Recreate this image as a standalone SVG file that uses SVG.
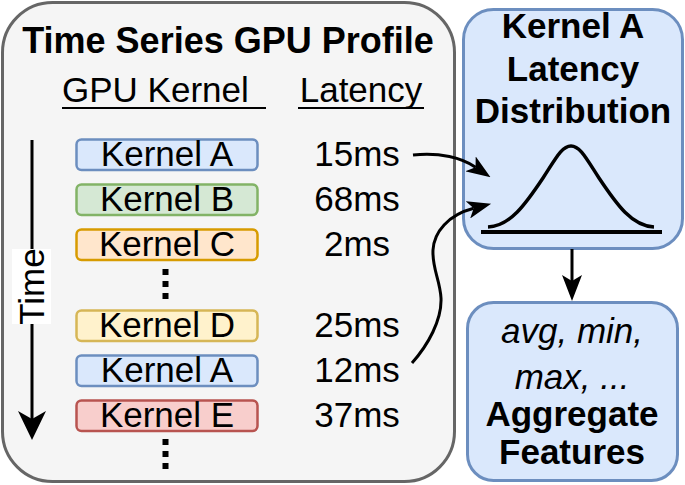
<svg xmlns="http://www.w3.org/2000/svg" width="685" height="485" viewBox="0 0 685 485">
<style>
text{font-family:"Liberation Sans",Arial,sans-serif;fill:#000}
.t{font-size:35px}
.b{font-weight:bold}
.c{text-anchor:middle}
.k{stroke-width:2.5}
.edge{fill:none;stroke:#000;stroke-width:3}
</style>
<defs>
<marker id="arr" viewBox="0 0 24 18" refX="6" refY="9" markerWidth="24" markerHeight="18" markerUnits="userSpaceOnUse" orient="auto">
<path d="M0,0 L24,9 L0,18 L6,9 Z" fill="#000"/>
</marker>
<marker id="arrDown" viewBox="0 0 26 20" refX="6" refY="10" markerWidth="26" markerHeight="20" markerUnits="userSpaceOnUse" orient="auto">
<path d="M0,0 L26,10 L0,20 L6,10 Z" fill="#000"/>
</marker>
<marker id="arrTime" viewBox="0 0 29 28" refX="8" refY="14" markerWidth="29" markerHeight="28" markerUnits="userSpaceOnUse" orient="auto">
<path d="M0,0 L29,14 L0,28 L8,14 Z" fill="#000"/>
</marker>
</defs>

<g id="profile">
<rect x="2.5" y="2.5" width="452" height="479" rx="50" fill="#f5f5f5" stroke="#666666" stroke-width="3"/>
<text class="t b c" x="228" y="53" font-size="36" style="font-size:36px">Time Series GPU Profile</text>
<text class="t" x="62" y="102">GPU Kernel</text>
<line x1="62" y1="108" x2="266" y2="108" stroke="#000" stroke-width="2"/>
<text class="t c" x="361" y="102">Latency</text>
<line x1="298" y1="108" x2="424" y2="108" stroke="#000" stroke-width="2"/>
</g>

<g id="time-axis">
<line x1="32" y1="140" x2="32" y2="419" class="edge" marker-end="url(#arrTime)"/>
<rect x="12" y="249" width="39" height="75" fill="#ffffff"/>
<text class="t c" transform="translate(43.5,286.5) rotate(-90)" x="0" y="0">Time</text>
</g>

<g id="kernel-a1">
<rect class="k" x="76.5" y="139.5" width="181" height="30.5" rx="5" fill="#dae8fc" stroke="#6c8ebf"/>
<text class="t c" x="167" y="166">Kernel A</text>
<text class="t c" x="357" y="166">15ms</text>
</g>
<g id="kernel-b">
<rect class="k" x="76.5" y="184.5" width="181" height="30.5" rx="5" fill="#d5e8d4" stroke="#82b366"/>
<text class="t c" x="167" y="211">Kernel B</text>
<text class="t c" x="357" y="211">68ms</text>
</g>
<g id="kernel-c">
<rect class="k" x="76.5" y="229.5" width="181" height="30.5" rx="5" fill="#ffe6cc" stroke="#d79b00"/>
<text class="t c" x="167" y="256">Kernel C</text>
<text class="t c" x="357" y="256">2ms</text>
</g>
<g id="dots-1" fill="#000">
<rect x="162.5" y="269" width="6" height="6"/>
<rect x="162.5" y="281" width="6" height="6"/>
<rect x="162.5" y="293" width="6" height="6"/>
</g>
<g id="kernel-d">
<rect class="k" x="76.5" y="310.5" width="181" height="30.5" rx="5" fill="#fff2cc" stroke="#d6b656"/>
<text class="t c" x="167" y="337">Kernel D</text>
<text class="t c" x="357" y="337">25ms</text>
</g>
<g id="kernel-a2">
<rect class="k" x="76.5" y="355.5" width="181" height="30.5" rx="5" fill="#dae8fc" stroke="#6c8ebf"/>
<text class="t c" x="167" y="382">Kernel A</text>
<text class="t c" x="357" y="382">12ms</text>
</g>
<g id="kernel-e">
<rect class="k" x="76.5" y="400.5" width="181" height="30.5" rx="5" fill="#f8cecc" stroke="#b85450"/>
<text class="t c" x="167" y="427">Kernel E</text>
<text class="t c" x="357" y="427">37ms</text>
</g>
<g id="dots-2" fill="#000">
<rect x="162.5" y="439" width="6" height="6"/>
<rect x="162.5" y="451" width="6" height="6"/>
<rect x="162.5" y="463" width="6" height="6"/>
</g>

<g id="distribution">
<rect x="463.5" y="9.5" width="219" height="239" rx="30" fill="#dae8fc" stroke="#6c8ebf" stroke-width="3"/>
<text class="t b c" x="573" y="38">Kernel A</text>
<text class="t b c" x="573" y="80.5">Latency</text>
<text class="t b c" x="573" y="123">Distribution</text>
<path d="M488,227 C510,226 525,205 543,178 C556,158 562,146 571,146 C580,146 586,158 599,178 C617,205 632,226 654,227" fill="none" stroke="#000" stroke-width="3.5"/>
<line x1="481" y1="232" x2="662" y2="232" stroke="#000" stroke-width="4"/>
</g>

<g id="aggregate">
<rect x="467.5" y="302.5" width="210" height="178" rx="26" fill="#dae8fc" stroke="#6c8ebf" stroke-width="3"/>
<text class="t c" font-style="italic" x="572" y="343">avg, min,</text>
<text class="t c" font-style="italic" x="572" y="389">max, ...</text>
<text class="t b c" x="572" y="426">Aggregate</text>
<text class="t b c" x="572" y="464">Features</text>
</g>

<g id="connectors">
<path class="edge" d="M413,155 C440,152 462,158 475.6,167.2" marker-end="url(#arr)"/>
<path class="edge" d="M412,363 C428,345 442,320 441,298 C440,280 432,268 433,250 C434,232 448,215 473.7,208.3" marker-end="url(#arr)"/>
<line class="edge" x1="572" y1="249" x2="572" y2="281" marker-end="url(#arrDown)"/>
</g>
</svg>
